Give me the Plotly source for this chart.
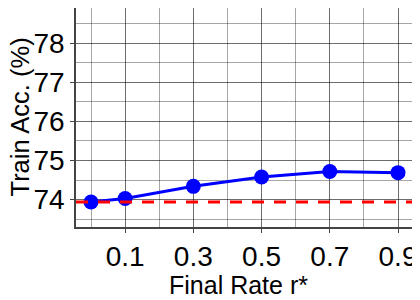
import plotly.graph_objects as go

rates = [0.0, 0.1, 0.3, 0.5, 0.7, 0.9]
train_acc = [73.94, 74.03, 74.34, 74.58, 74.72, 74.69]
baseline = 73.94
x_tickvals = [0.1, 0.3, 0.5, 0.7, 0.9]
x_ticktext = ["0.1", "0.3", "0.5", "0.7", "0.9"]
y_tickvals = [74, 75, 76, 77, 78]
x_title = "Final Rate r*"
y_title = "Train Acc. (%)"

font = "Liberation Sans, Arial, Helvetica, sans-serif"

fig = go.Figure()
fig.add_hline(y=baseline, line=dict(color="#ff0000", width=3, dash="12px,10px"))
fig.add_trace(go.Scatter(
    x=rates, y=train_acc, mode="lines+markers",
    line=dict(color="#0000ff", width=3),
    marker=dict(color="#0000ff", size=15),
    showlegend=False,
))

fig.add_annotation(text=x_title, xref="paper", yref="paper", x=0.4836, y=0,
                   xanchor="center", yanchor="middle", yshift=-58, showarrow=False,
                   borderpad=0, font=dict(size=25, family=font, color="black"))
fig.add_annotation(text=y_title, xref="paper", yref="paper", x=0, y=0.5,
                   xanchor="center", yanchor="middle", xshift=-57, textangle=-90,
                   showarrow=False, borderpad=0,
                   font=dict(size=25.5, family=font, color="black"))

grid = "rgba(0,0,0,0.35)"
fig.update_layout(
    width=420, height=300,
    margin=dict(l=68, r=16, t=0, b=81),
    plot_bgcolor="white", paper_bgcolor="white",
    font=dict(family=font, color="black"),
    xaxis=dict(
        range=[-0.044, 0.941],
        tickvals=x_tickvals, ticktext=x_ticktext,
        tickfont=dict(size=28),
        showgrid=True, gridcolor=grid, gridwidth=1,
        minor=dict(dtick=0.1, tick0=0, showgrid=True, gridcolor=grid, gridwidth=1),
        showline=True, linecolor="#444", linewidth=1.5, mirror=True,
        ticks="outside", ticklen=4, tickcolor="#444",
        zeroline=False, automargin=False,
    ),
    yaxis=dict(
        range=[73.3, 78.9],
        tickvals=y_tickvals,
        tickfont=dict(size=28),
        showgrid=True, gridcolor=grid, gridwidth=1,
        minor=dict(dtick=0.5, tick0=73.5, showgrid=True, gridcolor=grid, gridwidth=1),
        showline=True, linecolor="#444", linewidth=1.5, mirror=True,
        ticks="outside", ticklen=4, tickcolor="#444",
        zeroline=False, automargin=False,
    ),
)

fig.write_html("out.html")
